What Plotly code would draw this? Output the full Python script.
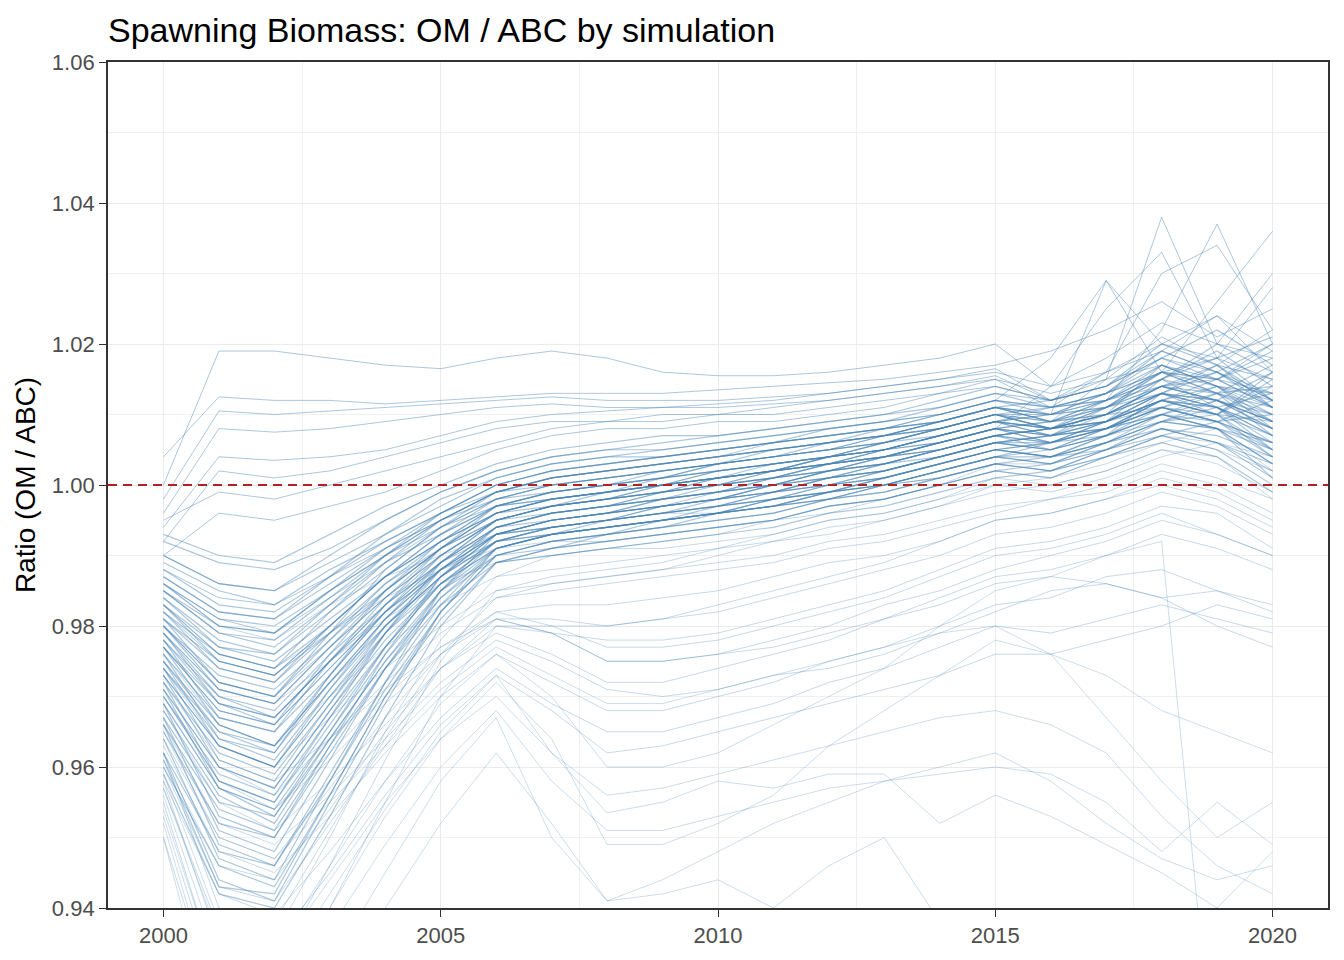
import plotly.graph_objects as go

# years of the simulation
years = list(range(2000, 2021))

# upper runs that jump above 1 after the first year
upper_runs = [
    [1.000, 1.019, 1.019, 1.018, 1.017, 1.0165, 1.018, 1.019, 1.018, 1.016, 1.0155, 1.0155, 1.016, 1.017, 1.018, 1.020, 1.014, 1.016, 1.020, 1.018, 1.015],
    [1.004, 1.0125, 1.012, 1.012, 1.0115, 1.012, 1.0125, 1.013, 1.013, 1.013, 1.0135, 1.014, 1.0145, 1.015, 1.016, 1.017, 1.019, 1.022, 1.026, 1.021, 1.025],
    [0.998, 1.0105, 1.010, 1.0105, 1.011, 1.0115, 1.012, 1.0125, 1.012, 1.012, 1.012, 1.0125, 1.013, 1.014, 1.015, 1.016, 1.014, 1.018, 1.023, 1.020, 1.018],
    [0.996, 1.008, 1.0075, 1.008, 1.009, 1.010, 1.011, 1.0115, 1.011, 1.011, 1.0115, 1.012, 1.013, 1.014, 1.015, 1.0165, 1.012, 1.016, 1.019, 1.024, 1.019],
    [0.994, 1.004, 1.0035, 1.004, 1.005, 1.007, 1.009, 1.010, 1.0105, 1.011, 1.011, 1.0115, 1.012, 1.013, 1.014, 1.015, 1.013, 1.015, 1.021, 1.017, 1.022],
    [0.992, 1.002, 1.001, 1.002, 1.004, 1.006, 1.008, 1.009, 1.009, 1.010, 1.010, 1.011, 1.012, 1.013, 1.014, 1.0155, 1.012, 1.014, 1.018, 1.016, 1.013],
    [0.995, 0.999, 0.998, 1.000, 1.002, 1.004, 1.006, 1.008, 1.009, 1.009, 1.010, 1.010, 1.011, 1.012, 1.013, 1.015, 1.011, 1.013, 1.016, 1.015, 1.020],
    [0.990, 0.996, 0.995, 0.997, 0.999, 1.002, 1.005, 1.007, 1.008, 1.008, 1.009, 1.009, 1.010, 1.011, 1.013, 1.014, 1.012, 1.015, 1.017, 1.014, 1.011],
]

# main bundle
core_runs = [
    [0.985, 0.980, 0.979, 0.985, 0.990, 0.995, 0.998, 1.000, 1.001, 1.002, 1.003, 1.004, 1.005, 1.006, 1.008, 1.010, 1.008, 1.010, 1.014, 1.012, 1.010],
    [0.980, 0.972, 0.970, 0.978, 0.986, 0.992, 0.996, 0.998, 0.999, 1.000, 1.001, 1.002, 1.003, 1.005, 1.006, 1.008, 1.007, 1.009, 1.012, 1.015, 1.011],
    [0.975, 0.966, 0.963, 0.972, 0.981, 0.988, 0.993, 0.995, 0.996, 0.997, 0.998, 0.999, 1.001, 1.002, 1.004, 1.006, 1.005, 1.008, 1.011, 1.009, 1.006],
    [0.990, 0.986, 0.985, 0.989, 0.993, 0.997, 1.001, 1.003, 1.004, 1.004, 1.005, 1.006, 1.007, 1.008, 1.009, 1.011, 1.009, 1.011, 1.016, 1.013, 1.014],
    [0.970, 0.958, 0.955, 0.966, 0.977, 0.986, 0.992, 0.994, 0.995, 0.996, 0.998, 0.999, 1.000, 1.001, 1.003, 1.005, 1.006, 1.007, 1.010, 1.008, 1.003],
    [0.982, 0.976, 0.974, 0.980, 0.987, 0.993, 0.997, 0.999, 1.000, 1.001, 1.002, 1.003, 1.004, 1.005, 1.007, 1.009, 1.008, 1.010, 1.013, 1.016, 1.012],
    [0.978, 0.969, 0.967, 0.975, 0.983, 0.989, 0.994, 0.995, 0.996, 0.998, 0.999, 1.000, 1.002, 1.003, 1.005, 1.007, 1.006, 1.009, 1.012, 1.011, 1.008],
    [0.965, 0.952, 0.950, 0.962, 0.974, 0.984, 0.991, 0.993, 0.994, 0.995, 0.997, 0.998, 0.999, 1.000, 1.002, 1.004, 1.003, 1.006, 1.009, 1.010, 1.005],
    [0.988, 0.983, 0.982, 0.987, 0.992, 0.996, 0.999, 1.001, 1.002, 1.003, 1.004, 1.005, 1.006, 1.007, 1.008, 1.010, 1.011, 1.012, 1.017, 1.014, 1.009],
    [0.973, 0.963, 0.960, 0.970, 0.979, 0.987, 0.992, 0.994, 0.995, 0.996, 0.997, 0.998, 1.000, 1.001, 1.003, 1.005, 1.004, 1.007, 1.011, 1.013, 1.007],
    [0.984, 0.978, 0.976, 0.982, 0.988, 0.994, 0.997, 0.998, 0.999, 1.000, 1.001, 1.002, 1.003, 1.004, 1.006, 1.008, 1.007, 1.008, 1.012, 1.010, 1.015],
    [0.979, 0.971, 0.969, 0.977, 0.984, 0.990, 0.995, 0.997, 0.998, 0.999, 1.000, 1.001, 1.003, 1.004, 1.006, 1.008, 1.009, 1.010, 1.011, 1.014, 1.010],
    [0.968, 0.956, 0.952, 0.964, 0.975, 0.985, 0.991, 0.993, 0.994, 0.995, 0.996, 0.997, 0.998, 1.000, 1.002, 1.004, 1.004, 1.006, 1.008, 1.007, 1.004],
    [0.992, 0.989, 0.988, 0.991, 0.995, 0.999, 1.002, 1.004, 1.005, 1.005, 1.006, 1.007, 1.008, 1.009, 1.011, 1.013, 1.011, 1.013, 1.019, 1.016, 1.012],
    [0.976, 0.967, 0.965, 0.973, 0.982, 0.989, 0.994, 0.996, 0.997, 0.998, 0.999, 1.000, 1.002, 1.003, 1.005, 1.007, 1.005, 1.007, 1.013, 1.012, 1.009],
    [0.981, 0.974, 0.972, 0.979, 0.986, 0.991, 0.995, 0.997, 0.998, 0.999, 1.000, 1.002, 1.003, 1.004, 1.006, 1.008, 1.006, 1.009, 1.015, 1.011, 1.013],
    [0.971, 0.960, 0.957, 0.968, 0.978, 0.986, 0.991, 0.993, 0.994, 0.995, 0.996, 0.997, 0.999, 1.000, 1.002, 1.004, 1.005, 1.007, 1.010, 1.008, 1.006],
    [0.986, 0.981, 0.980, 0.985, 0.990, 0.994, 0.998, 0.999, 1.000, 1.001, 1.002, 1.003, 1.004, 1.006, 1.007, 1.009, 1.008, 1.010, 1.014, 1.013, 1.011],
    [0.962, 0.948, 0.946, 0.958, 0.971, 0.982, 0.990, 0.992, 0.993, 0.994, 0.995, 0.996, 0.998, 0.999, 1.001, 1.003, 1.004, 1.005, 1.009, 1.011, 1.007],
    [0.977, 0.968, 0.966, 0.974, 0.982, 0.988, 0.993, 0.994, 0.995, 0.996, 0.997, 0.999, 1.000, 1.002, 1.004, 1.006, 1.007, 1.008, 1.012, 1.010, 1.004],
    [0.983, 0.977, 0.975, 0.981, 0.987, 0.992, 0.996, 0.998, 0.999, 1.000, 1.001, 1.002, 1.004, 1.005, 1.007, 1.009, 1.007, 1.011, 1.016, 1.018, 1.012],
    [0.974, 0.964, 0.961, 0.971, 0.980, 0.987, 0.992, 0.993, 0.994, 0.995, 0.996, 0.997, 0.998, 1.000, 1.001, 1.003, 1.002, 1.005, 1.008, 1.006, 1.002],
    [0.980, 0.973, 0.971, 0.978, 0.985, 0.991, 0.996, 0.998, 0.999, 1.001, 1.002, 1.003, 1.004, 1.005, 1.007, 1.009, 1.010, 1.011, 1.014, 1.015, 1.013],
    [0.969, 0.957, 0.954, 0.965, 0.976, 0.985, 0.990, 0.991, 0.992, 0.993, 0.994, 0.995, 0.997, 0.998, 1.000, 1.002, 1.001, 1.004, 1.007, 1.005, 1.000],
    [0.987, 0.982, 0.981, 0.986, 0.991, 0.995, 0.999, 1.001, 1.002, 1.003, 1.004, 1.005, 1.006, 1.007, 1.009, 1.011, 1.009, 1.012, 1.015, 1.020, 1.016],
    [0.975, 0.965, 0.962, 0.972, 0.981, 0.988, 0.994, 0.996, 0.997, 0.998, 0.999, 1.001, 1.002, 1.003, 1.005, 1.007, 1.008, 1.009, 1.013, 1.011, 1.008],
    [0.979, 0.970, 0.968, 0.976, 0.983, 0.989, 0.993, 0.995, 0.996, 0.997, 0.998, 1.000, 1.001, 1.003, 1.004, 1.006, 1.005, 1.008, 1.010, 1.012, 1.009],
    [0.966, 0.954, 0.951, 0.963, 0.974, 0.983, 0.989, 0.990, 0.991, 0.992, 0.993, 0.994, 0.996, 0.997, 0.999, 1.001, 1.002, 1.004, 1.006, 1.004, 0.999],
    [0.989, 0.985, 0.983, 0.988, 0.992, 0.996, 1.000, 1.002, 1.003, 1.004, 1.005, 1.006, 1.007, 1.008, 1.010, 1.012, 1.010, 1.012, 1.016, 1.015, 1.018],
    [0.972, 0.962, 0.959, 0.969, 0.979, 0.986, 0.991, 0.993, 0.994, 0.995, 0.996, 0.998, 0.999, 1.000, 1.002, 1.004, 1.003, 1.006, 1.009, 1.008, 1.005],
    [0.983, 0.975, 0.973, 0.980, 0.987, 0.992, 0.997, 0.999, 1.000, 1.001, 1.003, 1.004, 1.005, 1.006, 1.008, 1.010, 1.008, 1.010, 1.013, 1.012, 1.016],
    [0.960, 0.946, 0.943, 0.956, 0.970, 0.981, 0.989, 0.991, 0.992, 0.993, 0.994, 0.995, 0.997, 0.998, 1.000, 1.002, 1.003, 1.005, 1.008, 1.006, 1.003],
    [0.977, 0.969, 0.967, 0.975, 0.983, 0.990, 0.995, 0.997, 0.998, 1.000, 1.001, 1.002, 1.003, 1.005, 1.006, 1.008, 1.006, 1.009, 1.013, 1.017, 1.011],
    [0.985, 0.979, 0.977, 0.983, 0.989, 0.993, 0.997, 0.998, 0.999, 1.000, 1.001, 1.002, 1.003, 1.004, 1.005, 1.007, 1.008, 1.009, 1.011, 1.010, 1.007],
    [0.970, 0.959, 0.956, 0.967, 0.977, 0.986, 0.992, 0.994, 0.995, 0.997, 0.998, 0.999, 1.001, 1.002, 1.004, 1.006, 1.007, 1.008, 1.012, 1.010, 1.009],
    [0.978, 0.970, 0.967, 0.975, 0.982, 0.988, 0.992, 0.993, 0.994, 0.995, 0.996, 0.998, 0.999, 1.001, 1.003, 1.005, 1.004, 1.006, 1.010, 1.009, 1.006],
    [0.993, 0.990, 0.989, 0.993, 0.997, 1.000, 1.003, 1.005, 1.006, 1.007, 1.007, 1.008, 1.009, 1.010, 1.012, 1.014, 1.012, 1.014, 1.018, 1.022, 1.017],
    [0.974, 0.965, 0.963, 0.972, 0.980, 0.987, 0.993, 0.995, 0.996, 0.997, 0.998, 0.999, 1.001, 1.002, 1.004, 1.006, 1.006, 1.008, 1.011, 1.009, 1.010],
    [0.981, 0.975, 0.973, 0.979, 0.985, 0.991, 0.995, 0.997, 0.998, 0.999, 1.000, 1.001, 1.002, 1.004, 1.005, 1.007, 1.008, 1.010, 1.014, 1.012, 1.008],
    [0.967, 0.955, 0.953, 0.964, 0.975, 0.984, 0.990, 0.992, 0.993, 0.994, 0.995, 0.996, 0.998, 0.999, 1.001, 1.003, 1.002, 1.005, 1.007, 1.009, 1.004],
    [0.984, 0.977, 0.976, 0.983, 0.990, 0.996, 1.000, 1.002, 1.003, 1.004, 1.005, 1.006, 1.007, 1.008, 1.009, 1.011, 1.010, 1.013, 1.017, 1.014, 1.012],
    [0.976, 0.964, 0.962, 0.973, 0.983, 0.991, 0.997, 0.999, 1.000, 1.001, 1.003, 1.004, 1.005, 1.006, 1.008, 1.010, 1.008, 1.011, 1.015, 1.019, 1.014],
    [0.969, 0.953, 0.950, 0.963, 0.976, 0.987, 0.994, 0.996, 0.997, 0.999, 1.000, 1.001, 1.003, 1.004, 1.006, 1.008, 1.009, 1.010, 1.013, 1.011, 1.007],
    [0.981, 0.972, 0.970, 0.979, 0.988, 0.994, 0.999, 1.001, 1.002, 1.003, 1.004, 1.005, 1.006, 1.008, 1.009, 1.011, 1.012, 1.014, 1.019, 1.016, 1.020],
    [0.972, 0.958, 0.955, 0.967, 0.979, 0.989, 0.995, 0.997, 0.999, 1.000, 1.001, 1.003, 1.004, 1.005, 1.007, 1.009, 1.007, 1.009, 1.012, 1.010, 1.014],
    [0.987, 0.982, 0.981, 0.987, 0.993, 0.998, 1.001, 1.003, 1.004, 1.005, 1.006, 1.007, 1.008, 1.009, 1.010, 1.012, 1.011, 1.012, 1.015, 1.018, 1.021],
    [0.964, 0.947, 0.944, 0.958, 0.972, 0.985, 0.993, 0.995, 0.996, 0.998, 0.999, 1.000, 1.002, 1.003, 1.005, 1.007, 1.006, 1.008, 1.011, 1.009, 1.005],
    [0.979, 0.969, 0.966, 0.976, 0.985, 0.992, 0.997, 0.999, 1.000, 1.002, 1.003, 1.004, 1.005, 1.007, 1.008, 1.010, 1.009, 1.012, 1.016, 1.013, 1.010],
    [0.975, 0.963, 0.960, 0.971, 0.981, 0.989, 0.995, 0.997, 0.998, 0.999, 1.001, 1.002, 1.004, 1.005, 1.007, 1.009, 1.010, 1.012, 1.014, 1.017, 1.012],
    [0.983, 0.976, 0.974, 0.982, 0.989, 0.995, 0.999, 1.001, 1.002, 1.003, 1.004, 1.005, 1.006, 1.007, 1.009, 1.011, 1.009, 1.011, 1.014, 1.012, 1.009],
    [0.967, 0.951, 0.948, 0.961, 0.974, 0.985, 0.992, 0.994, 0.995, 0.997, 0.998, 1.000, 1.001, 1.003, 1.005, 1.007, 1.008, 1.009, 1.013, 1.010, 1.016],
    [0.978, 0.967, 0.965, 0.975, 0.984, 0.991, 0.996, 0.998, 0.999, 1.000, 1.002, 1.003, 1.004, 1.006, 1.008, 1.010, 1.008, 1.010, 1.014, 1.016, 1.011],
    [0.962, 0.944, 0.941, 0.955, 0.969, 0.982, 0.991, 0.993, 0.995, 0.996, 0.997, 0.999, 1.000, 1.002, 1.004, 1.006, 1.007, 1.009, 1.012, 1.014, 1.008],
    [0.985, 0.979, 0.978, 0.984, 0.990, 0.995, 0.999, 1.000, 1.001, 1.002, 1.003, 1.004, 1.006, 1.007, 1.008, 1.010, 1.010, 1.011, 1.013, 1.011, 1.006],
    [0.973, 0.960, 0.957, 0.968, 0.979, 0.988, 0.994, 0.996, 0.997, 0.998, 1.000, 1.001, 1.003, 1.004, 1.006, 1.008, 1.007, 1.010, 1.017, 1.015, 1.011],
    [0.980, 0.971, 0.969, 0.977, 0.985, 0.991, 0.996, 0.997, 0.998, 1.000, 1.001, 1.002, 1.004, 1.005, 1.007, 1.009, 1.008, 1.009, 1.012, 1.011, 1.005],
    [0.959, 0.942, 0.940, 0.953, 0.967, 0.980, 0.989, 0.991, 0.993, 0.994, 0.996, 0.997, 0.999, 1.000, 1.002, 1.004, 1.006, 1.008, 1.011, 1.009, 1.012],
    [0.990, 0.986, 0.985, 0.990, 0.995, 0.999, 1.002, 1.004, 1.005, 1.006, 1.007, 1.008, 1.009, 1.010, 1.011, 1.013, 1.012, 1.014, 1.020, 1.017, 1.015],
    [0.971, 0.957, 0.953, 0.965, 0.977, 0.987, 0.993, 0.995, 0.996, 0.997, 0.998, 1.000, 1.001, 1.002, 1.004, 1.006, 1.005, 1.007, 1.009, 1.012, 1.008],
    [0.977, 0.966, 0.963, 0.973, 0.982, 0.990, 0.995, 0.996, 0.997, 0.998, 0.999, 1.001, 1.002, 1.004, 1.005, 1.007, 1.008, 1.011, 1.015, 1.013, 1.017],
    [0.966, 0.949, 0.946, 0.959, 0.972, 0.983, 0.991, 0.993, 0.994, 0.995, 0.996, 0.998, 0.999, 1.001, 1.003, 1.005, 1.004, 1.006, 1.009, 1.008, 1.003],
    [0.982, 0.974, 0.972, 0.980, 0.987, 0.993, 0.998, 1.000, 1.001, 1.002, 1.003, 1.005, 1.006, 1.007, 1.009, 1.011, 1.010, 1.013, 1.018, 1.015, 1.019],
    [0.974, 0.961, 0.958, 0.969, 0.980, 0.988, 0.993, 0.994, 0.995, 0.996, 0.997, 0.998, 1.000, 1.001, 1.003, 1.005, 1.006, 1.008, 1.010, 1.008, 1.001],
    [0.961, 0.943, 0.942, 0.956, 0.970, 0.982, 0.990, 0.992, 0.993, 0.995, 0.996, 0.997, 0.999, 1.001, 1.003, 1.005, 1.004, 1.007, 1.010, 1.013, 1.009],
    [0.986, 0.980, 0.979, 0.985, 0.991, 0.996, 1.000, 1.002, 1.003, 1.004, 1.005, 1.006, 1.008, 1.009, 1.010, 1.012, 1.011, 1.013, 1.016, 1.014, 1.013],
]

# runs with spikes in the last years
spike_runs = [
    [0.982, 0.975, 0.973, 0.980, 0.987, 0.992, 0.996, 0.998, 0.999, 1.000, 1.002, 1.003, 1.004, 1.006, 1.008, 1.010, 1.009, 1.015, 1.038, 1.020, 1.030],
    [0.977, 0.968, 0.966, 0.974, 0.982, 0.989, 0.994, 0.996, 0.997, 0.999, 1.000, 1.002, 1.003, 1.005, 1.007, 1.009, 1.008, 1.012, 1.022, 1.037, 1.020],
    [0.986, 0.981, 0.979, 0.984, 0.989, 0.994, 0.998, 1.000, 1.001, 1.002, 1.003, 1.004, 1.005, 1.007, 1.009, 1.011, 1.010, 1.029, 1.016, 1.026, 1.036],
    [0.973, 0.963, 0.960, 0.970, 0.980, 0.987, 0.993, 0.995, 0.996, 0.997, 0.999, 1.000, 1.002, 1.004, 1.006, 1.008, 1.014, 1.025, 1.033, 1.018, 1.028],
    [0.980, 0.972, 0.970, 0.977, 0.984, 0.990, 0.995, 0.997, 0.998, 0.999, 1.001, 1.002, 1.004, 1.005, 1.007, 1.009, 1.011, 1.016, 1.030, 1.034, 1.022],
    [0.988, 0.984, 0.983, 0.987, 0.991, 0.995, 0.999, 1.001, 1.002, 1.003, 1.004, 1.006, 1.007, 1.008, 1.010, 1.012, 1.018, 1.029, 1.020, 1.024, 1.016],
]

# runs that settle a little below the bundle
below_runs = [
    [0.976, 0.966, 0.963, 0.970, 0.977, 0.983, 0.987, 0.988, 0.989, 0.990, 0.991, 0.992, 0.994, 0.995, 0.997, 0.999, 1.000, 1.002, 1.005, 1.003, 0.999],
    [0.971, 0.960, 0.956, 0.964, 0.972, 0.979, 0.984, 0.985, 0.986, 0.987, 0.988, 0.989, 0.991, 0.992, 0.994, 0.996, 0.998, 0.999, 1.002, 1.000, 0.996],
    [0.983, 0.976, 0.974, 0.979, 0.984, 0.988, 0.991, 0.992, 0.992, 0.993, 0.994, 0.995, 0.996, 0.998, 1.000, 1.002, 1.001, 1.004, 1.007, 1.005, 1.002],
    [0.964, 0.950, 0.947, 0.957, 0.967, 0.976, 0.982, 0.983, 0.983, 0.984, 0.985, 0.987, 0.989, 0.990, 0.992, 0.995, 0.996, 0.998, 1.001, 0.999, 0.995],
    [0.979, 0.971, 0.969, 0.975, 0.981, 0.986, 0.989, 0.990, 0.991, 0.991, 0.992, 0.993, 0.995, 0.996, 0.998, 1.000, 0.999, 1.001, 1.004, 1.006, 1.001],
    [0.969, 0.957, 0.954, 0.962, 0.970, 0.977, 0.981, 0.981, 0.980, 0.981, 0.982, 0.984, 0.986, 0.988, 0.990, 0.993, 0.994, 0.996, 0.999, 0.997, 0.993],
    [0.986, 0.980, 0.978, 0.983, 0.987, 0.990, 0.993, 0.994, 0.995, 0.996, 0.996, 0.997, 0.998, 1.000, 1.001, 1.003, 1.003, 1.005, 1.008, 1.006, 1.004],
    [0.961, 0.946, 0.944, 0.954, 0.965, 0.974, 0.980, 0.979, 0.978, 0.978, 0.979, 0.981, 0.983, 0.985, 0.988, 0.991, 0.992, 0.994, 0.997, 0.996, 0.991],
    [0.974, 0.963, 0.960, 0.967, 0.974, 0.980, 0.985, 0.986, 0.987, 0.988, 0.989, 0.990, 0.992, 0.993, 0.995, 0.997, 0.998, 1.000, 1.003, 1.001, 0.998],
    [0.968, 0.955, 0.951, 0.958, 0.966, 0.974, 0.979, 0.976, 0.972, 0.972, 0.974, 0.976, 0.978, 0.981, 0.984, 0.987, 0.988, 0.990, 0.993, 0.991, 0.988],
    [0.963, 0.948, 0.945, 0.953, 0.962, 0.970, 0.976, 0.972, 0.968, 0.968, 0.970, 0.972, 0.975, 0.977, 0.980, 0.983, 0.984, 0.987, 0.988, 0.985, 0.983],
    [0.972, 0.961, 0.958, 0.964, 0.971, 0.977, 0.982, 0.980, 0.977, 0.977, 0.978, 0.980, 0.982, 0.984, 0.987, 0.990, 0.991, 0.993, 0.996, 0.993, 0.990],
    [0.958, 0.942, 0.939, 0.948, 0.958, 0.967, 0.974, 0.969, 0.965, 0.965, 0.967, 0.969, 0.972, 0.974, 0.977, 0.980, 0.979, 0.981, 0.983, 0.981, 0.979],
    [0.966, 0.952, 0.949, 0.956, 0.964, 0.972, 0.978, 0.975, 0.971, 0.970, 0.971, 0.973, 0.974, 0.976, 0.979, 0.982, 0.985, 0.986, 0.984, 0.980, 0.977],
    [0.970, 0.958, 0.954, 0.961, 0.969, 0.976, 0.981, 0.979, 0.975, 0.975, 0.976, 0.977, 0.979, 0.981, 0.983, 0.986, 0.987, 0.986, 0.984, 0.985, 0.982],
]

# runs with a deep early dip
deep_runs = [
    [0.958, 0.935, 0.936, 0.950, 0.965, 0.978, 0.987, 0.990, 0.991, 0.992, 0.993, 0.995, 0.997, 0.998, 1.000, 1.003, 1.002, 1.004, 1.007, 1.006, 1.001],
    [0.955, 0.930, 0.932, 0.946, 0.961, 0.975, 0.985, 0.987, 0.988, 0.989, 0.991, 0.993, 0.995, 0.996, 0.998, 1.001, 1.000, 1.002, 1.005, 1.004, 0.998],
    [0.962, 0.940, 0.938, 0.951, 0.964, 0.976, 0.984, 0.986, 0.987, 0.988, 0.990, 0.992, 0.993, 0.995, 0.997, 1.000, 1.001, 1.003, 1.006, 1.008, 1.002],
    [0.950, 0.925, 0.928, 0.940, 0.955, 0.970, 0.980, 0.980, 0.980, 0.981, 0.983, 0.985, 0.987, 0.989, 0.992, 0.995, 0.996, 0.998, 1.000, 0.998, 0.994],
    [0.957, 0.937, 0.935, 0.945, 0.956, 0.966, 0.973, 0.968, 0.962, 0.963, 0.965, 0.967, 0.969, 0.971, 0.973, 0.976, 0.976, 0.978, 0.980, 0.983, 0.981],
    [0.960, 0.943, 0.941, 0.952, 0.963, 0.974, 0.981, 0.979, 0.975, 0.975, 0.976, 0.978, 0.980, 0.983, 0.985, 0.988, 0.990, 0.992, 0.995, 0.993, 0.990],
]

# low outlying runs
outlier_runs = [
    [0.952, 0.925, 0.920, 0.932, 0.945, 0.958, 0.967, 0.950, 0.941, 0.944, 0.948, 0.952, 0.955, 0.958, 0.960, 0.962, 0.958, 0.952, 0.947, 0.944, 0.946],
    [0.956, 0.933, 0.930, 0.942, 0.954, 0.965, 0.973, 0.962, 0.9535, 0.955, 0.958, 0.957, 0.959, 0.959, 0.952, 0.956, 0.953, 0.949, 0.945, 0.940, 0.948],
    [0.954, 0.930, 0.927, 0.940, 0.953, 0.964, 0.972, 0.964, 0.949, 0.949, 0.952, 0.956, 0.963, 0.968, 0.973, 0.978, 0.976, 0.967, 0.958, 0.950, 0.955],
    [0.959, 0.938, 0.934, 0.946, 0.958, 0.969, 0.976, 0.970, 0.960, 0.960, 0.962, 0.966, 0.970, 0.974, 0.980, 0.985, 0.987, 0.990, 0.992, 0.912, 0.925],
    [0.950, 0.920, 0.918, 0.928, 0.940, 0.952, 0.962, 0.952, 0.941, 0.942, 0.944, 0.940, 0.946, 0.950, 0.938, 0.930, 0.925, 0.920, 0.915, 0.920, 0.925],
    [0.965, 0.950, 0.947, 0.955, 0.963, 0.971, 0.977, 0.973, 0.969, 0.969, 0.971, 0.973, 0.975, 0.977, 0.979, 0.980, 0.976, 0.973, 0.968, 0.965, 0.962],
    [0.957, 0.936, 0.933, 0.944, 0.955, 0.964, 0.970, 0.962, 0.956, 0.957, 0.959, 0.961, 0.963, 0.965, 0.967, 0.968, 0.966, 0.962, 0.953, 0.946, 0.942],
    [0.953, 0.928, 0.925, 0.937, 0.949, 0.960, 0.968, 0.958, 0.951, 0.951, 0.953, 0.955, 0.957, 0.958, 0.959, 0.960, 0.959, 0.955, 0.948, 0.955, 0.949],
]

y_ticks = [0.94, 0.96, 0.98, 1.00, 1.02, 1.04, 1.06]
x_ticks = [2000, 2005, 2010, 2015, 2020]

dense_color = 'rgba(70,130,180,0.45)'
sparse_color = 'rgba(70,130,180,0.30)'

fig = go.Figure()

for group, colour, width in [(upper_runs, dense_color, 1.0), (core_runs, dense_color, 1.2), (spike_runs, dense_color, 1.0),
                             (below_runs, sparse_color, 1.0), (deep_runs, sparse_color, 1.0), (outlier_runs, sparse_color, 0.9)]:
    for run in group:
        fig.add_trace(go.Scatter(
            x=years,
            y=run,
            mode='lines',
            line=dict(color=colour, width=width),
            hoverinfo='skip',
            showlegend=False
        ))

# reference line at ratio 1
fig.add_shape(
    type='line', xref='paper', x0=0, x1=1, yref='y', y0=1.0, y1=1.0,
    line=dict(color='#B22222', width=1.8, dash='9px,6px'),
    layer='above'
)

# page has an 8px body margin, so the figure is sized to fit the window
fig.update_layout(
    width=1336,
    height=952,
    paper_bgcolor='white',
    plot_bgcolor='white',
    margin=dict(l=100, r=16, t=54, b=44),
    font=dict(family='Liberation Sans, Arial, sans-serif', color='#4d4d4d'),
    title=dict(
        text='Spawning Biomass: OM / ABC by simulation',
        x=100 / 1336, xanchor='left',
        y=1 - 22 / 952, yanchor='middle',
        font=dict(size=34, color='black')
    ),
    xaxis=dict(
        range=[1999, 2021],
        tickvals=x_ticks,
        ticktext=[str(t) for t in x_ticks],
        tickfont=dict(size=22, color='#4d4d4d'),
        ticks='outside', ticklen=7, tickcolor='#333333', tickwidth=1.4,
        showline=True, mirror=True, linecolor='#333333', linewidth=1.8,
        showgrid=True, gridcolor='#ebebeb', gridwidth=1.4,
        minor=dict(dtick=2.5, tick0=2000, showgrid=True, gridcolor='#f0f0f0', gridwidth=0.8),
        zeroline=False
    ),
    yaxis=dict(
        range=[0.94, 1.06],
        tickvals=y_ticks,
        ticktext=['%.2f' % t for t in y_ticks],
        tickfont=dict(size=22, color='#4d4d4d'),
        ticks='outside', ticklen=7, tickcolor='#333333', tickwidth=1.4,
        showline=True, mirror=True, linecolor='#333333', linewidth=1.8,
        showgrid=True, gridcolor='#ebebeb', gridwidth=1.4,
        minor=dict(dtick=0.01, tick0=0.94, showgrid=True, gridcolor='#f0f0f0', gridwidth=0.8),
        zeroline=False,
        title=dict(text='Ratio (OM / ABC)', font=dict(size=28, color='black'), standoff=8)
    )
)

fig.write_html("out.html")
